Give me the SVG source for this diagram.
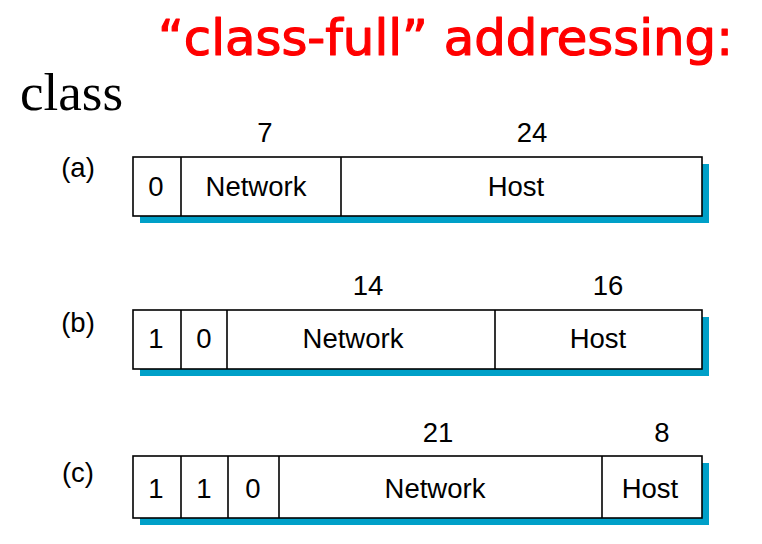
<svg xmlns="http://www.w3.org/2000/svg" width="762" height="544" viewBox="0 0 762 544">
  <style>
    .title { font-family: "Comic Sans MS", "DejaVu Sans", sans-serif; font-size: 50px; fill: #ff0000; stroke: #ff0000; stroke-width: 1.2; stroke-linejoin: round; }
    .serif { font-family: "Liberation Serif", "Times New Roman", serif; font-size: 53px; fill: #000; }
    .lbl { font-family: "Liberation Sans", Arial, sans-serif; font-size: 27.5px; fill: #000; text-anchor: middle; }
    .shadow { fill: #00a0c8; }
    .box { fill: #fff; stroke: #000; stroke-width: 1.6; }
    .div { stroke: #000; stroke-width: 1.6; }
  </style>

  <rect width="762" height="544" fill="#fff"/>

  <text class="title" x="158" y="55" textLength="575" lengthAdjust="spacingAndGlyphs">“class-full” addressing:</text>
  <text class="serif" x="20" y="110">class</text>

  <!-- class A: 0 | 7-bit network | 24-bit host -->
  <g id="class-a">
    <text class="lbl" x="78" y="177">(a)</text>
    <text class="lbl" x="265" y="142">7</text>
    <text class="lbl" x="532" y="142">24</text>
    <rect class="shadow" x="140" y="164" width="569" height="59"/>
    <rect class="box" x="133" y="157" width="569" height="59"/>
    <line class="div" x1="181" y1="157" x2="181" y2="216"/>
    <line class="div" x1="341" y1="157" x2="341" y2="216"/>
    <text class="lbl" x="156" y="196">0</text>
    <text class="lbl" x="256" y="196">Network</text>
    <text class="lbl" x="516" y="196">Host</text>
  </g>

  <!-- class B: 1 0 | 14-bit network | 16-bit host -->
  <g id="class-b">
    <text class="lbl" x="78" y="332">(b)</text>
    <text class="lbl" x="368" y="295">14</text>
    <text class="lbl" x="608" y="295">16</text>
    <rect class="shadow" x="140" y="317" width="569" height="59"/>
    <rect class="box" x="133" y="310" width="569" height="59"/>
    <line class="div" x1="181" y1="310" x2="181" y2="369"/>
    <line class="div" x1="227" y1="310" x2="227" y2="369"/>
    <line class="div" x1="495" y1="310" x2="495" y2="369"/>
    <text class="lbl" x="156" y="348">1</text>
    <text class="lbl" x="204" y="348">0</text>
    <text class="lbl" x="353" y="348">Network</text>
    <text class="lbl" x="598" y="348">Host</text>
  </g>

  <!-- class C: 1 1 0 | 21-bit network | 8-bit host -->
  <g id="class-c">
    <text class="lbl" x="78" y="482">(c)</text>
    <text class="lbl" x="438" y="442">21</text>
    <text class="lbl" x="662" y="442">8</text>
    <rect class="shadow" x="140" y="463" width="569" height="62"/>
    <rect class="box" x="133" y="456" width="569" height="62"/>
    <line class="div" x1="181" y1="456" x2="181" y2="518"/>
    <line class="div" x1="228" y1="456" x2="228" y2="518"/>
    <line class="div" x1="279" y1="456" x2="279" y2="518"/>
    <line class="div" x1="602" y1="456" x2="602" y2="518"/>
    <text class="lbl" x="156" y="498">1</text>
    <text class="lbl" x="204" y="498">1</text>
    <text class="lbl" x="253" y="498">0</text>
    <text class="lbl" x="435" y="498">Network</text>
    <text class="lbl" x="650" y="498">Host</text>
  </g>
</svg>
